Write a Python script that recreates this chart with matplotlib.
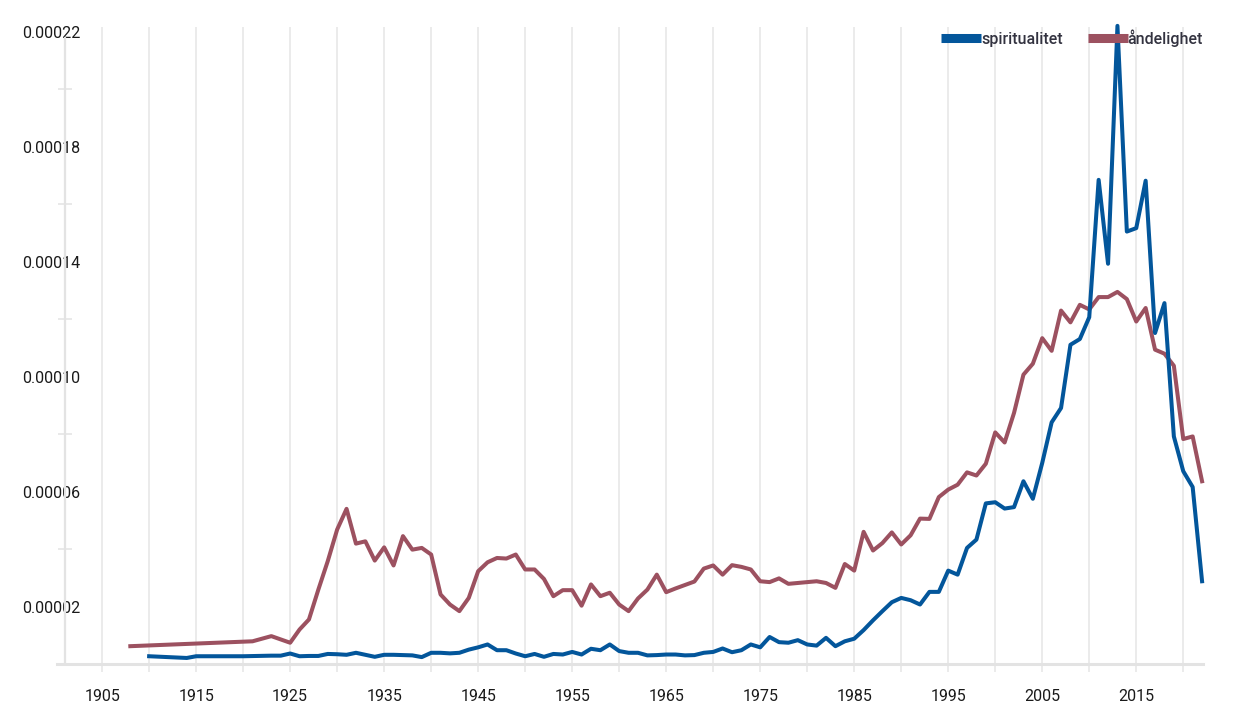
import matplotlib
matplotlib.use("Agg")
import matplotlib.pyplot as plt
from matplotlib.ticker import FixedLocator, NullFormatter

plt.rcParams['font.family'] = ['Roboto', 'DejaVu Sans']

# ---- data ----
years_sp = [1910, 1914, 1915, 1920, 1923, 1924, 1925, 1926, 1927, 1928, 1929, 1930,
            1931, 1932, 1933, 1934, 1935, 1936, 1937, 1938, 1939, 1940, 1941, 1942,
            1943, 1944, 1945, 1946, 1947, 1948, 1949, 1950, 1951, 1952, 1953, 1954,
            1955, 1956, 1957, 1958, 1959, 1960, 1961, 1962, 1963, 1964, 1965, 1966,
            1967, 1968, 1969, 1970, 1971, 1972, 1973, 1974, 1975, 1976, 1977, 1978,
            1979, 1980, 1981, 1982, 1983, 1984, 1985, 1986, 1987, 1988, 1989, 1990,
            1991, 1992, 1993, 1994, 1995, 1996, 1997, 1998, 1999, 2000, 2001, 2002,
            2003, 2004, 2005, 2006, 2007, 2008, 2009, 2010, 2011, 2012, 2013, 2014,
            2015, 2016, 2017, 2018, 2019, 2020, 2021, 2022]
spiritualitet = [2.7, 2.1, 2.7, 2.7, 2.9, 2.9, 3.65, 2.7, 2.8, 2.8, 3.5, 3.4,
                 3.2, 3.9, 3.2, 2.5, 3.2, 3.2, 3.1, 3.0, 2.4, 3.9, 3.9, 3.7,
                 3.9, 5.0, 5.8, 6.8, 4.8, 4.8, 3.65, 2.7, 3.5, 2.5, 3.5, 3.3,
                 4.2, 3.3, 5.3, 4.8, 6.8, 4.5, 3.9, 3.9, 3.0, 3.1, 3.3, 3.3,
                 3.0, 3.1, 3.9, 4.2, 5.4, 4.1, 4.8, 6.8, 5.8, 9.4, 7.6, 7.4,
                 8.3, 6.8, 6.4, 9.1, 6.2, 7.9, 8.8, 11.8, 15.2, 18.4, 21.5, 23.0,
                 22.2, 20.7, 25.1, 25.1, 32.5, 31.1, 40.4, 43.3, 55.9, 56.3, 54.1, 54.6,
                 63.6, 57.5, 70.0, 84.1, 89.1, 111.1, 113.1, 120.7, 168.5, 139.3, 222.1, 150.5,
                 151.7, 168.2, 115.2, 125.6, 79.2, 67.1, 61.6, 28.8]

years_an = [1908, 1921, 1923, 1925, 1926, 1927, 1928, 1929, 1930, 1931, 1932, 1933,
            1934, 1935, 1936, 1937, 1938, 1939, 1940, 1941, 1942, 1943, 1944, 1945,
            1946, 1947, 1948, 1949, 1950, 1951, 1952, 1953, 1954, 1955, 1956, 1957,
            1958, 1959, 1960, 1961, 1962, 1963, 1964, 1965, 1966, 1967, 1968, 1969,
            1970, 1971, 1972, 1973, 1974, 1975, 1976, 1977, 1978, 1979, 1980, 1981,
            1982, 1983, 1984, 1985, 1986, 1987, 1988, 1989, 1990, 1991, 1992, 1993,
            1994, 1995, 1996, 1997, 1998, 1999, 2000, 2001, 2002, 2003, 2004, 2005,
            2006, 2007, 2008, 2009, 2010, 2011, 2012, 2013, 2014, 2015, 2016, 2017,
            2018, 2019, 2020, 2021, 2022]
andelighet = [6.2, 7.9, 9.7, 7.4, 12.0, 15.5, 25.9, 35.8, 46.8, 54.0, 41.9, 42.7,
              36.0, 40.6, 34.3, 44.5, 39.8, 40.4, 38.1, 24.2, 20.7, 18.4, 23.0, 32.3,
              35.4, 36.9, 36.7, 38.1, 32.9, 32.9, 29.6, 23.6, 25.7, 25.7, 20.3, 27.7,
              23.6, 24.8, 20.7, 18.4, 22.8, 25.9, 31.1, 25.0, 26.3, 27.5, 28.7, 33.2,
              34.3, 31.1, 34.4, 33.8, 32.9, 28.8, 28.5, 29.8, 27.9, 28.2, 28.5, 28.8,
              28.2, 26.5, 34.8, 32.5, 46.0, 39.5, 42.1, 45.8, 41.6, 44.8, 50.6, 50.5,
              58.1, 60.7, 62.4, 66.7, 65.6, 69.7, 80.6, 77.1, 87.4, 100.7, 104.5, 113.4,
              109.0, 123.0, 118.9, 125.0, 123.4, 127.7, 127.7, 129.5, 127.0, 119.2, 123.9, 109.4,
              108.0, 103.8, 78.3, 79.2, 63.6]

y_label_ticks = [0.00002, 0.00006, 0.00010, 0.00014, 0.00018, 0.00022]
y_minor_ticks = [0.00004, 0.00008, 0.00012, 0.00016, 0.00020]
x_grid_ticks = list(range(1905, 2021, 5))
x_label_ticks = list(range(1905, 2016, 10))

scale = 1e-6
sp_vals = [v * scale for v in spiritualitet]
an_vals = [v * scale for v in andelighet]

BLUE = "#03569b"
RED = "#9c5160"
GRID = "#e6e6e6"

fig = plt.figure(figsize=(12.6, 7.1), dpi=100)
ax = fig.add_axes([57 / 1260, 46 / 710, (1203 - 57) / 1260, (683 - 46) / 710])

ax.plot(years_sp, sp_vals, color=BLUE, lw=2.9, clip_on=False, zorder=3,
        label="spiritualitet")
ax.plot(years_an, an_vals, color=RED, lw=2.9, clip_on=False, zorder=2, label="åndelighet")

ax.set_xlim(1900.2, 2022.1)
ax.set_ylim(0, 0.0002217)

# spines
for s in ['top', 'right']:
    ax.spines[s].set_visible(False)
ax.spines['left'].set_position(('data', 1901.06))
ax.spines['left'].set_bounds(0, 0.000218)
ax.spines['left'].set_color("#e3e3e3")
ax.spines['left'].set_linewidth(1.6)
ax.spines['bottom'].set_color("#e3e3e3")
ax.spines['bottom'].set_linewidth(2.2)
ax.spines['left'].set_zorder(1)

# x ticks / grid
ax.xaxis.set_major_locator(FixedLocator(x_grid_ticks))
ax.set_xticklabels([str(y) if y in x_label_ticks else "" for y in x_grid_ticks])
ax.tick_params(axis='x', which='major', length=6, width=1.1, color=GRID, pad=12,
               labelsize=11.5, labelcolor="#1a1a1a")
ax.grid(axis='x', which='major', color=GRID, lw=1.1, zorder=0)
ax.set_axisbelow(True)

# y ticks
ax.yaxis.set_major_locator(FixedLocator(y_label_ticks))
ax.set_yticklabels([f"{v:.5f}" for v in y_label_ticks])
ax.yaxis.set_minor_locator(FixedLocator(y_minor_ticks))
ax.yaxis.set_minor_formatter(NullFormatter())
ax.tick_params(axis='y', which='major', length=0, pad=-11, labelsize=11.5, labelcolor="#1a1a1a")
ax.tick_params(axis='y', which='minor', direction='inout', length=10, width=1.1, color="#e3e3e3")

leg = fig.legend(loc='center right', bbox_to_anchor=(1203 / 1260, 1 - 38 / 710), ncol=2,
                 frameon=False, handlelength=2.5, handletextpad=0.0, columnspacing=1.55,
                 borderpad=0, borderaxespad=0,
                 prop={'family': ['Roboto', 'DejaVu Sans'], 'size': 11.5, 'weight': 'medium'})
for line in leg.get_lines():
    line.set_linewidth(6.5)
    line.set_solid_capstyle('butt')
for t in leg.get_texts():
    t.set_color("#333340")

fig.savefig("out.png", dpi=100)
